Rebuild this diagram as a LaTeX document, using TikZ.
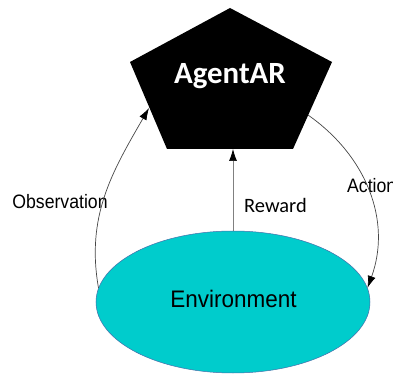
\documentclass[tikz,border=0pt]{standalone}
\usepackage{fontspec}
\setmainfont{Liberation Sans}
\newfontfamily\calibri{Carlito}
\usetikzlibrary{shapes.geometric,arrows.meta}
\definecolor{envcyan}{RGB}{0,204,204}
\definecolor{envline}{RGB}{70,110,170}
\definecolor{flowgray}{RGB}{70,70,70}

\begin{document}
\begin{tikzpicture}[x=1bp, y=1bp,
    flow/.style={draw=flowgray, line width=0.7bp, -{Latex[length=12bp,width=8bp,color=black]}}]
          \useasboundingbox (0,0) rectangle (393,374);

          % agent pentagon
          \coordinate (top) at (230,366);
          \coordinate (left) at (130,312);
          \coordinate (right) at (332,312);
          \coordinate (botleft) at (167,225);
          \coordinate (botright) at (293,225);
          \fill[black] (top) -- (right) -- (botright) -- (botleft) -- (left) -- cycle;
          \node[anchor=base, text=white, font=\calibri\bfseries\fontsize{31}{36}\selectfont] (agent) at (230,291) {AgentAR};

          \node[ellipse, draw=envline, fill=envcyan, line width=0.5bp, minimum width=274bp, minimum height=142bp, inner sep=0pt] (env) at (233,72) {};
          \node[anchor=base, font=\fontsize{24}{28}\selectfont] (envtext) at (233.5,67) {\scalebox{0.94}[1]{Environment}};

          \coordinate (obs-in) at (149,266);
          \coordinate (act-out) at (308,259);
          \coordinate (rew-in) at (233,225);

          \node[anchor=base, font=\fontsize{19.5}{24}\selectfont] (obs) at (60,166) {\scalebox{0.91}[1]{Observation}};
          \node[anchor=base west, inner sep=0pt, font=\calibri\fontsize{20.5}{24}\selectfont] (rew) at (244,162) {Reward};
          \node[anchor=base west, inner sep=0pt, font=\fontsize{19.5}{24}\selectfont] (act) at (347,182) {\scalebox{0.91}[1]{Action}};

          \draw[flow] (env.174) to[out=100, in=240] (obs-in);
          \draw[flow, draw=gray] (env.north) -- (rew-in);
          \draw[flow] (act-out) to[out=-35, in=70] (env.6);
        \end{tikzpicture}
\end{document}
